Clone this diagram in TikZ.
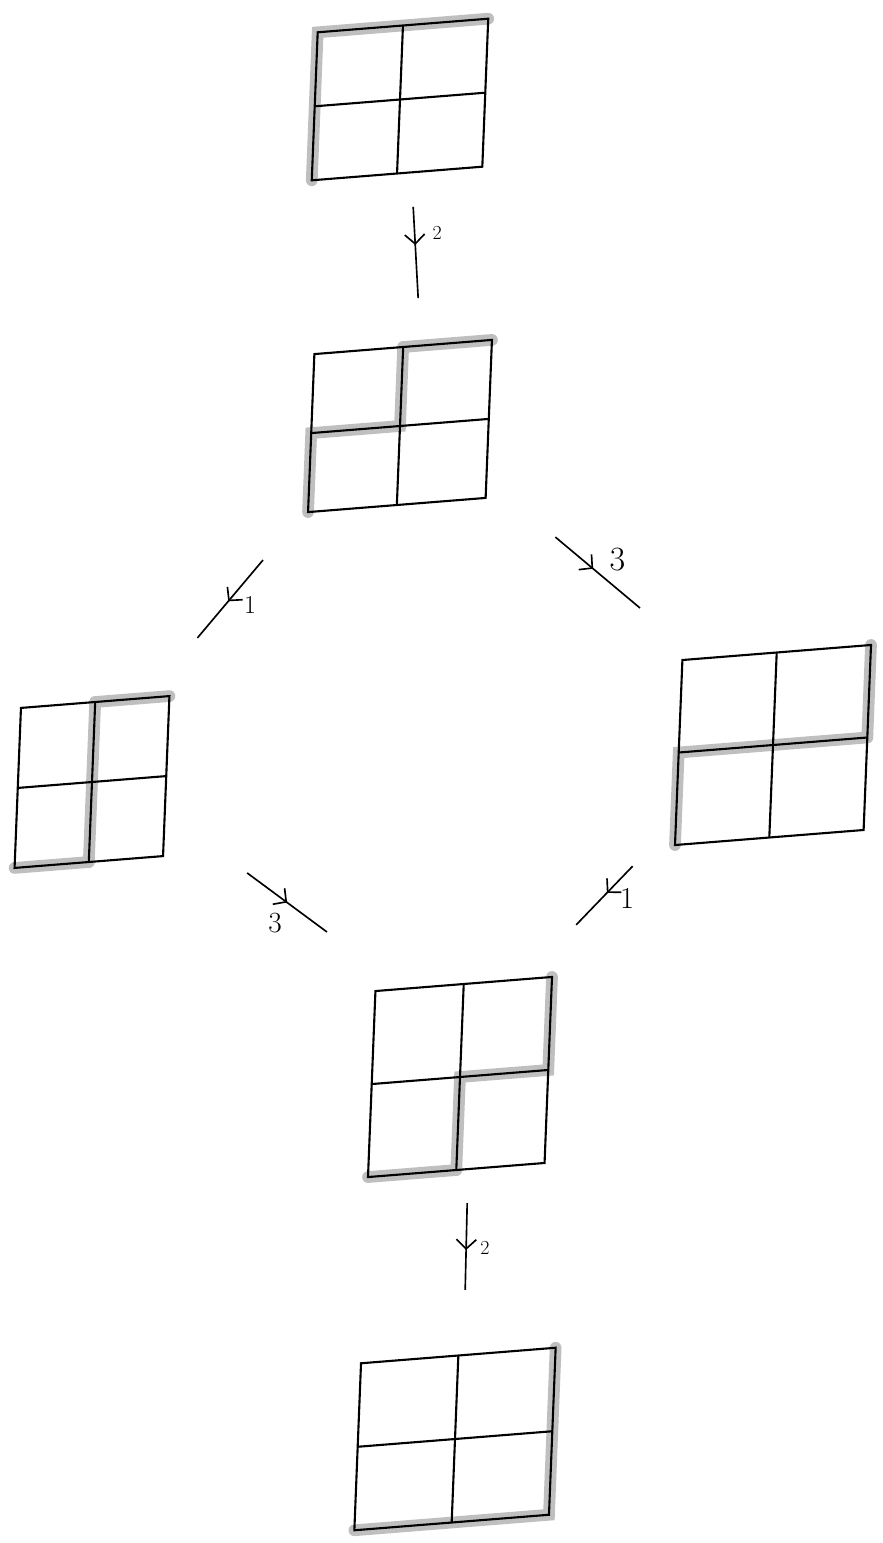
\documentclass[tikz,border=0pt]{standalone}
\usepackage{tikz}
\usetikzlibrary{arrows.meta,calc,decorations.markings,backgrounds}

\tikzset{
	board/.style={draw, line width=1.8pt, xslant=0.04, yslant=0.08, inner sep=0pt, outer sep=0pt},
	cross/.style={line width=1.8pt},
	seam/.style={line width=10pt, black!25, line cap=round},
	move/.style={line width=1.4pt,
		decoration={markings, mark=at position #1 with {\arrow{Straight Barb[length=8pt,width=17pt]}}},
		postaction={decorate}},
	tag/.style={inner sep=1pt}
}

\begin{document}
\begin{tikzpicture}[x=0.03cm,y=-0.03cm]
	\useasboundingbox (0,0) rectangle (882,1543);
	% the six boards
	\node[board, minimum width=5.1cm,  minimum height=4.44cm] (G1) at (400,99.5) {};
	\node[board, minimum width=5.31cm, minimum height=4.74cm] (G2) at (400,426) {};
	\node[board, minimum width=4.44cm, minimum height=4.8cm]  (G3) at (92,782) {};
	\node[board, minimum width=5.64cm, minimum height=5.55cm] (G4) at (773,745) {};
	\node[board, minimum width=5.28cm, minimum height=5.58cm] (G5) at (460,1077) {};
	\node[board, minimum width=5.82cm, minimum height=5.01cm] (G6) at (455,1439) {};
	\foreach \g in {G1,G2,G3,G4,G5,G6}
		\draw[cross] (\g.north) -- (\g.south) (\g.west) -- (\g.east);
	% marked edges
	\begin{scope}[on background layer]
		\draw[seam] (G1.south west) -- (G1.north west) -- (G1.north east);
		\draw[seam] (G2.north) -- (G2.north east);
		\draw[seam] (G2.north) -- (G2.center) -- (G2.west) -- (G2.south west);
		\draw[seam] (G3.north) -- (G3.south);
		\draw[seam] (G3.north) -- (G3.north east);
		\draw[seam] (G3.south west) -- (G3.south);
		\draw[seam] (G4.north east) -- (G4.east);
		\draw[seam] (G4.east) -- (G4.west) -- (G4.south west);
		\draw[seam] (G5.north east) -- (G5.east) -- (G5.center) -- (G5.south);
		\draw[seam] (G5.south west) -- (G5.south);
		\draw[seam] (G6.north east) -- (G6.south east) -- (G6.south west);
	\end{scope}
	% moves
	\draw[move=0.412, shorten <=1cm, shorten >=1.47cm] ([xshift=0.43cm]G1.south) -- ([xshift=0.53cm]G2.north)
		node[tag, pos=0.343, xshift=0.68cm] {\fontsize{17}{18}\selectfont 2};
	\draw[move=0.485, shorten <=1.88cm, shorten >=2.28cm] ([xshift=-0.14cm]G2.south west) -- ([xshift=-0.63cm]G3.north east)
		node[tag, pos=0.505, xshift=0.75cm] {\fontsize{22}{24}\selectfont 1};
	\draw[move=0.437, shorten <=1.83cm, shorten >=2.43cm] ([xshift=0.69cm]G2.south east) -- ([xshift=0.59cm]G4.north west)
		node[tag, pos=0.383, xshift=1.04cm] {\fontsize{29}{30}\selectfont 3};
	\draw[move=0.344, shorten <=0.85cm, shorten >=2.98cm] ([xshift=1.84cm]G3.south east) -- ([xshift=0.94cm]G5.north west)
		node[tag, pos=0.278, yshift=-0.88cm] {\fontsize{25}{27}\selectfont 3};
	\draw[move=0.363, shorten <=0.88cm, shorten >=2.17cm] ([xshift=-0.66cm]G4.south west) -- ([xshift=-0.78cm]G5.north east)
		node[tag, pos=0.401, xshift=0.75cm] {\fontsize{26}{28}\selectfont 1};
	\draw[move=0.431, shorten <=0.99cm, shorten >=1.97cm] ([xshift=0.35cm]G5.south) -- ([xshift=0.16cm]G6.north)
		node[tag, pos=0.42, xshift=0.56cm] {\fontsize{17}{18}\selectfont 2};
\end{tikzpicture}
\end{document}
